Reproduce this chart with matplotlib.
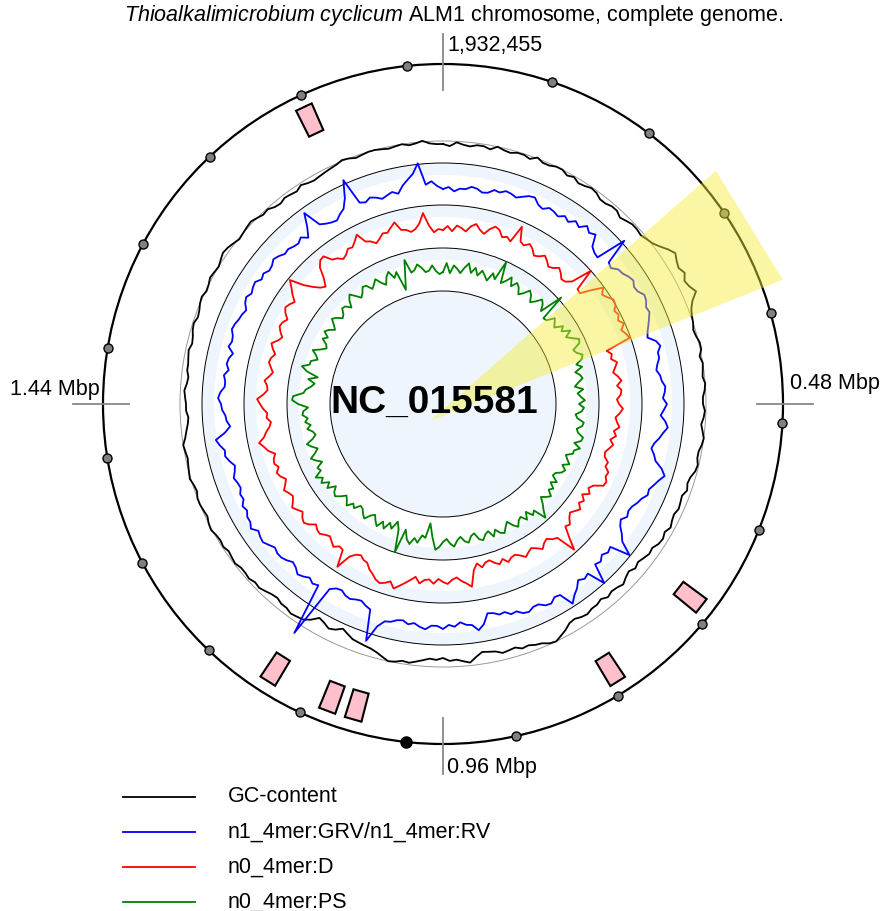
import numpy as np
import matplotlib.pyplot as plt
from matplotlib.patches import Circle, Polygon

plt.rcParams['font.family'] = ['Liberation Sans', 'DejaVu Sans']
plt.rcParams['mathtext.fontset'] = 'custom'
plt.rcParams['mathtext.rm'] = 'Liberation Sans'
plt.rcParams['mathtext.it'] = 'Liberation Sans:italic'

GENOME_LEN = 1932455
accession = 'NC_015581'
title = r'$\it{Thioalkalimicrobium\ cyclicum}$ ALM1 chromosome, complete genome.'

# ticks at the quarters of the chromosome
tick_pos = [0, 483114, 966228, 1449341]
tick_labels = ['1,932,455', '0.48 Mbp', '0.96 Mbp', '1.44 Mbp']

# 100 kb markers on the backbone, 1 Mbp is drawn bigger
marker_pos = [100000, 200000, 300000, 400000, 500000, 600000, 700000, 800000, 900000,
              1000000, 1100000, 1200000, 1300000, 1400000, 1500000, 1600000, 1700000,
              1800000, 1900000]
big_marker = 1000000

# pink features (start, end)
feat_start = [679000, 785300, 1043500, 1069200, 1131500, 1789600]
feat_end = [695200, 801500, 1059700, 1085400, 1147700, 1805800]

highlight = (262000, 366000)

legend_names = ['GC-content', 'n1_4mer:GRV/n1_4mer:RV', 'n0_4mer:D', 'n0_4mer:PS']
colors = ['black', 'blue', 'red', 'green']

# sliding-window deviations, 240 windows clockwise from position 0
gc_dev = [2, 0, 4, 2, 1, 3, 3, 1, 5, 3, 2, 4, 4, 2, 6, 3, 3, 5, 5, 2,
          4, 1, 2, 4, 3, 0, 0, 2, 2, -1, 1, 3, 3, 2, 4, 6, 10, 15, 19, 16,
          14, 17, 13, 15, 19, 12, 8, 6, 5, 3, 4, 6, 6, 3, 5, 4, 3, 5, 4, 2,
          2, 4, 3, 1, 3, 5, 4, 2, 2, 4, 3, 0, -1, 1, -2, -1, 0, -2, -1, 1,
          -2, 0, -1, -4, -3, -5, -7, -5, -8, -6, -3, -5, -6, -4, -7, -5, -5, -3, -4, -6,
          -5, -1, 2, 5, 4, 1, 0, -2, -1, -4, -3, -2, -5, -6, -7, -3, 2, 0, -2, -1,
          -4, -2, -3, -1, 1, 3, 2, 4, 5, 2, -1, -3, -4, -5, -6, -9, -12, -8, -6, -9,
          -11, -5, -1, 0, 1, -1, -1, -3, -2, 0, 2, 1, 3, 2, 2, 4, 3, 2, 4, 3,
          4, 6, 5, 3, 4, 5, 5, 3, 4, 6, 5, 4, 3, 4, 5, 2, 0, -2, -3, -1,
          -1, 0, 1, -1, -2, 0, 0, 1, 2, 0, 1, 3, 4, 2, 3, 5, 6, 4, 5, 7,
          6, 5, 7, 9, 8, 6, 4, 5, 6, 7, 5, 3, 4, 1, 0, 2, 1, 0, 3, 1,
          0, 1, 2, 3, 4, 6, 5, 3, 4, 5, 5, 4, 3, 4, 5, 3, 4, 6, 3, 2]

grv = [-5, -3, -7, -4, -4, -1, -2, -5, -4, 0, -1, 2, 1, -1, 2, 5, 6, 1, -1, 3,
       2, 0, 4, 1, 6, 3, 9, 5, 8, -3, -6, -7, 24, -2, -4, 1, 2, 5, 7, 4,
       5, 9, 8, 5, 6, 3, 0, -3, -5, 2, 5, 1, 1, -2, -4, -1, 0, 3, 2, 0,
       4, 1, -2, 3, 6, 2, -1, -5, -7, -3, 0, 8, 13, 9, 6, 3, 4, 0, -2, -5,
       -6, -4, -8, -5, 1, 6, 20, 0, 2, -1, 3, 1, 21, 3, 5, 2, 8, 12, 18, 4,
       3, 7, 6, 2, 2, 5, 4, 0, 1, -3, -2, -5, -6, 4, 9, 3, 2, -1, 3, 1,
       5, 2, 2, 6, 4, 1, 3, 0, 1, 4, 5, 12, 29, -2, -4, -7, -6, -4, -5, -8,
       -7, -3, 53, 0, 2, -1, 2, 4, 0, -2, 1, 3, 3, 1, 4, 7, 6, 4, 9, 6,
       6, 3, 5, 1, 2, -1, 0, 2, -1, -3, 1, 4, 3, 7, 10, 0, -6, -3, -2, 1,
       2, 5, 3, -1, -1, 1, -3, 0, -1, -4, 2, 0, 1, 4, 3, 1, 0, -2, 2, 4,
       1, 3, 4, 0, 2, -1, 0, 3, 1, -2, -1, -3, -4, -1, -6, 3, 16, -2, -5, -7,
       -8, -4, -1, 8, 25, -2, -4, -1, -3, -6, -4, -2, -5, 2, 7, 12, 22, 0, 3, -2]

d_val = [-3, 1, -4, 2, 0, -3, 3, 6, 1, -2, 4, 8, 6, 0, 2, -1, 17, 3, 1, 5,
         2, -3, -1, 3, 0, -4, -2, 2, -1, -5, -4, 1, 22, 0, -1, 10, 21, 16, 19, 23,
         22, 18, 20, 17, 21, 16, 19, 21, -5, -1, -3, 2, -1, -4, 0, 3, -2, 2, 1, -3,
         -1, 3, 0, -4, -2, 1, -4, -1, -6, -2, -5, -8, -7, -2, -3, 2, 1, 4, 3, -6,
         -9, -5, -11, -6, -9, -4, -7, -10, -7, -2, -4, 6, 19, -1, -3, -7, -5, -1, -5, -8,
         -6, -3, -7, -10, -9, -6, -11, -7, -10, -14, -13, -9, -14, -8, 8, 4, 1, -3, -1, 3,
         1, -2, 3, -1, 0, 4, -2, 2, 6, 10, 14, 8, 11, 13, 11, 7, 4, -1, -2, -5,
         -3, 2, 17, 0, -1, 3, 0, -3, -1, 2, 1, -2, 3, 6, 4, 0, 3, 6, 2, -1,
         1, 4, 0, -3, 1, 3, -1, 2, 1, -2, 4, 7, 11, 5, 2, -2, -4, 0, -1, 3,
         6, 9, 3, -1, 0, 3, -1, -4, -1, 2, 1, -2, 2, 5, 0, -3, 1, 4, 3, 0,
         5, 8, 6, 3, 9, 14, 20, 6, -2, -8, -11, -4, 7, 12, 13, 5, 3, -1, 1, 5,
         4, 8, 13, 3, 1, -3, 0, 4, 3, 7, 11, 2, 1, -2, 0, 5, 15, 2, -5, -2]

ps_val = [-5, 4, -6, 2, -1, -5, 1, 6, -3, 3, -4, 2, -2, -6, 3, -2, 18, -3, 1, 7,
          -1, 5, 2, -4, 0, 6, 3, -3, 1, 7, 4, -2, 22, -5, -4, 4, 1, -2, 6, 2,
          10, 3, 8, 14, 12, 4, 6, 11, 9, 2, 7, -1, 3, 5, 0, -4, 4, -2, 1, 5,
          -1, 4, 2, -4, -2, 5, 4, -1, 1, 7, 6, 0, 7, 2, 2, -4, -1, 3, -3, 2,
          0, -5, -6, 1, -4, 2, -1, 5, 2, -2, 4, 9, 16, 3, 6, -1, 6, 0, 2, 7,
          3, -3, 1, 6, 4, -1, 5, -2, 0, 5, 3, -4, -2, 4, 2, -3, 0, 6, 3, -2,
          1, 6, 9, -3, -17, -2, -4, 4, 0, 7, 3, -6, 19, -4, -11, -2, -7, 1, -5, 2,
          -2, -7, -4, 2, -1, -5, -6, 0, -3, 3, -1, -4, 1, 5, 3, -2, 6, 1, 8, 4,
          10, 2, 4, -3, 2, 6, 0, -4, 1, 5, -2, -6, -4, 1, -3, 2, -1, 4, 3, -2,
          8, 14, 13, 3, 1, -4, -7, 0, -9, 3, 9, 2, 2, -4, -1, 4, -3, -8, -6, 0,
          -4, 2, -1, -6, -2, 3, 0, -5, -3, 2, 1, -4, 3, 7, 2, -3, 0, 5, 4, -2,
          1, 5, -1, -5, 2, 6, -2, 3, -17, -4, 12, -2, 0, 5, 1, -4, -3, 2, -4, -7]

# ring layout (pixel radii)
R_OUT = 340
R_FEAT = (299, 328)
R_TICK = (314, 370)
ring_lines = [113, 156, 199, 241]
bands = [(229, 241), (187, 199), (144, 156)]
track_base = [258, 220, 177, 137]
LIGHT = '#eef5fd'


def ang(pos):
    return np.asarray(pos) / GENOME_LEN * 2 * np.pi


def xy(pos, r):
    a = ang(pos)
    return r * np.sin(a), r * np.cos(a)


fig = plt.figure(figsize=(8.81, 9.11), dpi=100)
ax = fig.add_axes([0, 0, 1, 1])
ax.set_xlim(-443, 438)
ax.set_ylim(-507, 404)
ax.set_aspect('equal')
ax.axis('off')

# background disc and bands
for r0, r1 in bands:
    ax.add_patch(Circle((0, 0), r1, facecolor=LIGHT, edgecolor='none', zorder=0))
    ax.add_patch(Circle((0, 0), r0, facecolor='white', edgecolor='none', zorder=0))
ax.add_patch(Circle((0, 0), ring_lines[0], facecolor=LIGHT, edgecolor='none', zorder=0))
for r in ring_lines:
    ax.add_patch(Circle((0, 0), r, fill=False, edgecolor='black', lw=0.7, zorder=1))
ax.add_patch(Circle((0, 0), 263, fill=False, edgecolor='#999999', lw=0.7, zorder=1))

# data tracks
series = [gc_dev, grv, d_val, ps_val]
n = len(gc_dev)
win_pos = np.arange(n + 1) * GENOME_LEN / n
for vals, base, c in zip(series, track_base, colors):
    v = np.array(vals + vals[:1], dtype=float)
    x, y = xy(win_pos, base + v)
    ax.plot(x, y, color=c, lw=1.3, zorder=3)

# backbone
ax.add_patch(Circle((0, 0), R_OUT, fill=False, edgecolor='black', lw=1.6, zorder=4))
for p in marker_pos:
    x, y = xy(p, R_OUT)
    if p == big_marker:
        ax.plot(x, y, 'o', ms=8, mfc='black', mec='black', zorder=5)
    else:
        ax.plot(x, y, 'o', ms=6.5, mfc='#808080', mec='black', mew=1.0, zorder=5)

# features
for s, e in zip(feat_start, feat_end):
    x0, y0 = xy(s, R_FEAT[0])
    x1, y1 = xy(e, R_FEAT[0])
    x2, y2 = xy(e, R_FEAT[1])
    x3, y3 = xy(s, R_FEAT[1])
    ax.add_patch(Polygon([(x0, y0), (x1, y1), (x2, y2), (x3, y3)], closed=True,
                         facecolor='pink', edgecolor='black', lw=1.5, zorder=4))

# ticks
for p in tick_pos:
    xa, ya = xy(p, R_TICK[0])
    xb, yb = xy(p, R_TICK[1])
    ax.plot([xa, xb], [ya, yb], color='#888888', lw=1.3, zorder=4)
fs = 15.5
ax.text(4, 359, tick_labels[0], fontsize=fs, ha='left', va='center')
ax.text(347, 21, tick_labels[1], fontsize=fs, ha='left', va='center')
ax.text(4, -364, tick_labels[2], fontsize=fs, ha='left', va='center')
ax.text(-343, 14, tick_labels[3], fontsize=fs, ha='right', va='center')

# highlighted region
apex = (-13, -17)
xa, ya = xy(highlight[0], 380)
xb, yb = xy(highlight[1], 380)
ax.add_patch(Polygon([apex, (apex[0] + xa, apex[1] + ya), (apex[0] + xb, apex[1] + yb)],
                     closed=True, facecolor=(0.96, 0.93, 0.2), alpha=0.45,
                     edgecolor='none', zorder=6))

ax.text(-9, 1, accession, fontsize=28, fontweight='bold', ha='center', va='center', zorder=7)
ax.text(11, 389, title, fontsize=fs, ha='center', va='center')

# legend
for i, (name, c) in enumerate(zip(legend_names, colors)):
    yl = -393 - 35 * i
    ax.plot([-320, -248], [yl, yl], color=c, lw=1.3)
    ax.text(-215, yl, name, fontsize=fs, ha='left', va='center')

fig.savefig('out.png', dpi=100)
